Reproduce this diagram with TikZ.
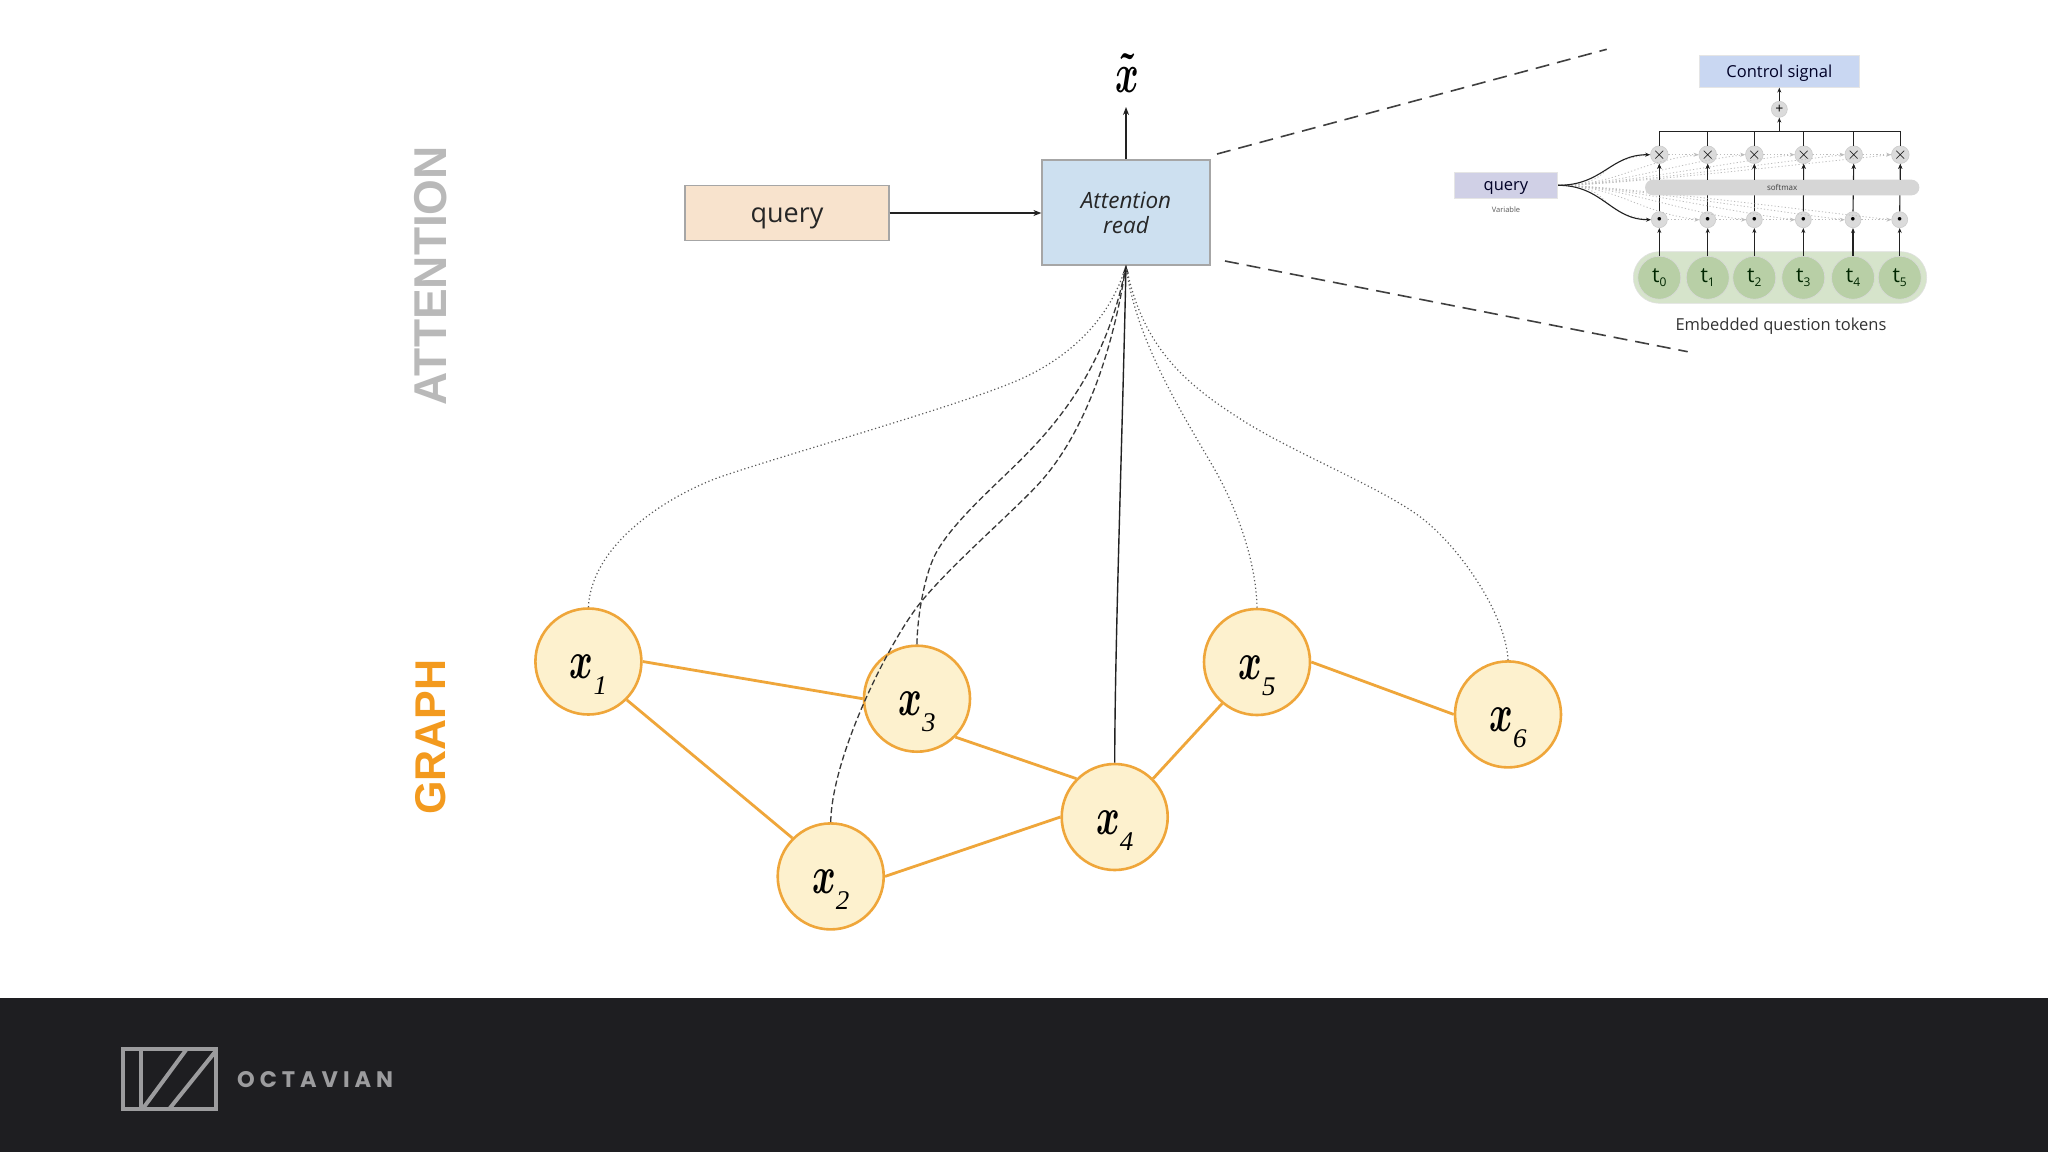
\documentclass[tikz,border=0pt]{standalone}
\usepackage{fontspec}
\setmainfont{Open Sans}
\newfontfamily\headfont{Liberation Sans}
\newfontfamily\logofont[LetterSpace=22]{Poppins}
\newfontfamily\subfont{Liberation Serif}
\usetikzlibrary{arrows.meta}
\definecolor{footer}{HTML}{1E1E21}
\definecolor{logogrey}{HTML}{9C9C9E}
\definecolor{nodeorange}{HTML}{EFA63A}
\definecolor{nodefill}{HTML}{FDF1CE}
\definecolor{inkline}{HTML}{222222}
\definecolor{ghost}{HTML}{BDBDBD}
\definecolor{querybox}{HTML}{F8E3CD}
\definecolor{attnbox}{HTML}{CDE0F0}
\definecolor{ctrlbox}{HTML}{C9D7F2}
\definecolor{qsmall}{HTML}{D0D0E6}
\definecolor{pillgreen}{HTML}{D6E4CB}
\definecolor{tgreen}{HTML}{B8CFA6}
\definecolor{headgrey}{HTML}{B9B9B9}
\definecolor{headorange}{HTML}{F39A1E}
\tikzset{
  gnode/.style={circle,draw=nodeorange,line width=2.6pt,fill=nodefill,minimum size=106pt,inner sep=0pt,text=black},
  gedge/.style={draw=nodeorange,line width=2.8pt},
  softdot/.style={draw=black!65,line width=1.2pt,dash pattern=on 1.2pt off 2.6pt},
  softdash/.style={draw=black!78,line width=1.3pt,dash pattern=on 6pt off 3pt},
  zoomline/.style={draw=black!75,line width=1.6pt,dash pattern=on 14pt off 8pt},
  mainarrow/.style={draw=inkline,line width=1.4pt,-{Stealth[length=8pt,width=6pt]}},
  insetarrow/.style={draw=inkline,line width=1.1pt,-{Stealth[length=5pt,width=4pt]}},
  insetline/.style={draw=inkline,line width=1.1pt},
  opnode/.style={circle,fill=black!14,draw=black!20,line width=.6pt,minimum size=16pt,inner sep=0pt,text=black},
  ghostline/.style={draw=ghost,line width=.8pt,dash pattern=on 1.2pt off 2.2pt},
  ghostarrow/.style={ghostline,-{Stealth[length=5pt,width=4pt]}},
  logoline/.style={draw=logogrey,line width=4pt},
}
\newcommand{\gx}[1]{\raisebox{-17pt}[0pt][0pt]{\scalebox{3.6}[5.3]{\boldmath$x$}}\raisebox{-33pt}[0pt][0pt]{\fontsize{27}{27}\subfont\itshape #1}}
\newcommand{\tk}[1]{\fontsize{21}{21}\selectfont t\raisebox{-4pt}{\fontsize{12}{12}\selectfont #1}}
\begin{document}
\begin{tikzpicture}[x=1pt,y=-1pt]
\useasboundingbox (0,0) rectangle (2048,1152);
\fill[white] (0,0) rectangle (2048,1152);
\fill[footer] (0,998) rectangle (2048,1152);

% side labels
\node[rotate=90,text=headgrey,font=\headfont\bfseries\fontsize{46}{46}\selectfont] (attlabel) at (431,276) {ATTENTION};
\node[rotate=90,text=headorange,font=\headfont\bfseries\fontsize{43}{43}\selectfont] (graphlabel) at (431,737) {GRAPH};

% main boxes
\node[draw=black!35,line width=1.2pt,fill=querybox,minimum width=204pt,minimum height=55pt,inner sep=0pt,text=black!85,font=\fontsize{27}{27}\selectfont] (query) at (787,213) {\raisebox{-9pt}[0pt][0pt]{query}};
\node[draw=black!35,line width=1.2pt,fill=attnbox,minimum width=168pt,minimum height=105pt,inner sep=0pt,align=center,text=black!85,font=\itshape\fontsize{22.5}{25}\selectfont] (attn) at (1126,212.5) {Attention\\read};
\node[inner sep=0pt] (xtilde) at (1127,73) {\scalebox{3.6}[5.6]{\boldmath$\tilde{x}$}};
\coordinate (xout) at (1126,107);
\draw[mainarrow] (query.east |- 0,213) -- (attn.west |- 0,213);
\draw[mainarrow] (attn.north) -- (xout);

% graph nodes
\node[gnode] (x1) at (588.4,661.5) {\gx{1}};
\node[gnode] (x2) at (830.7,876.4) {\gx{2}};
\node[gnode] (x3) at (917,698.7) {\gx{3}};
\node[gnode] (x4) at (1114.7,817) {\gx{4}};
\node[gnode] (x5) at (1257,662) {\gx{5}};
\node[gnode] (x6) at (1508,714.4) {\gx{6}};
\draw[gedge] (x1.east) -- (x3.west);
\draw[gedge] (x1.-45) -- (x2.135);
\draw[gedge] (x2.east) -- (x4.west);
\draw[gedge] (x3.-45) -- (x4.135);
\draw[gedge] (x4.45) -- (x5.230);
\draw[gedge] (x5.east) -- (x6.west);

% attention read edges
\draw[softdot] (x1.north) .. controls (592,540) and (675,493) .. (720,477) .. controls (790,453) and (958.6,406) .. (1018.6,380) .. controls (1068.6,358) and (1110,320) .. (attn.south);
\draw[softdash] (x2.north) .. controls (832,755) and (890.6,638) .. (922.6,600) .. controls (952.6,564) and (1006,518) .. (1036,486.7) .. controls (1076,445) and (1110,370) .. (attn.south);
\draw[softdash] (x3.north) .. controls (917,620) and (924,575) .. (936,553) .. controls (954,520) and (999.5,482) .. (1027.5,453) .. controls (1072.5,407) and (1110,350) .. (attn.south);
\draw[mainarrow] (x4.north) .. controls (1115,640) and (1122,450) .. (attn.south);
\draw[softdot] (x5.north) .. controls (1256,555) and (1232,500) .. (1215,470) .. controls (1185,418) and (1135,340) .. (attn.south);
\draw[softdot] (x6.north) .. controls (1506,615) and (1460,546.7) .. (1420,516.7) .. controls (1380,487) and (1292,452) .. (1242,420) .. controls (1182,382) and (1142,345) .. (attn.south);

% zoom guides
\coordinate (zta) at (1217,154);
\coordinate (ztb) at (1606.7,49.3);
\coordinate (zba) at (1225,261);
\coordinate (zbb) at (1687.7,351.7);
\draw[zoomline] (zta) -- (ztb);
\draw[zoomline] (zba) -- (zbb);

% inset
\node[fill=ctrlbox,draw=black!10,line width=.6pt,minimum width=160.6pt,minimum height=32pt,inner sep=0pt,font=\fontsize{16.5}{16.5}\selectfont,text=black!85!blue] (ctrl) at (1779.3,71.3) {\raisebox{-6pt}[0pt][0pt]{Control signal}};
\node[fill=qsmall,draw=black!10,line width=.6pt,minimum width=103.4pt,minimum height=26pt,inner sep=0pt,font=\fontsize{16.5}{16.5}\selectfont,text=black!85!blue] (q2) at (1506,185.3) {\raisebox{-5.4pt}[0pt][0pt]{query}};
\node[inner sep=0pt,font=\fontsize{7.5}{7.5}\selectfont,text=black!65] (varlabel) at (1506,210) {Variable};
\node[opnode,font=\fontsize{14}{14}\selectfont] (plus) at (1779.3,109.3) {+};
\fill[pillgreen,draw=black!12,line width=.6pt,rounded corners=25.8pt] (1633.3,251.7) rectangle (1926.7,303.3);
\coordinate (bus) at (1779.3,131.3);

\foreach \i/\mpos/\bpos in {0/1659.3/1659.3,1/1707.7/1707.7,2/1754.3/1754.3,3/1803.7/1803.3,4/1853.7/1853,5/1900.3/1899.7}{
  \node[opnode,font=\fontsize{17}{17}\selectfont] (m\i) at (\mpos,154.7) {$\times$};
  \node[opnode,font=\fontsize{9}{9}\selectfont] (d\i) at (\bpos,219.7) {$\bullet$};
  \node[circle,fill=tgreen,draw=black!15,line width=.6pt,minimum size=43pt,inner sep=0pt,text=black!85!green] (t\i) at (\bpos,277.7) {\tk{\i}};
  \draw[ghostline] (q2.east) .. controls +(60,0) and +(-60,6) .. (m\i.west);
  \draw[ghostline] (q2.east) .. controls +(60,0) and +(-60,-6) .. (d\i.west);
  \draw[insetarrow] (t\i.north) -- (d\i.south);
  \draw[insetarrow] (d\i.north) -- (m\i.south);
  \draw[insetline] (m\i.north) -- (m\i.north |- bus);
}
\foreach \a/\b in {0/1,1/2,2/3,3/4,4/5}{
  \draw[ghostarrow] (m\a.east) -- (m\b.west);
  \draw[ghostarrow] (d\a.east) -- (d\b.west);
}
\node[fill=black!16,rounded corners=7.8pt,minimum width=274.3pt,minimum height=15.6pt,inner sep=0pt,font=\fontsize{8}{8}\selectfont,text=black!75] (softmax) at (1782.2,187.5) {softmax};
\foreach \i in {0,...,5}{
  \draw[insetarrow] (softmax.north -| m\i) -- (m\i.south);
}
\draw[insetline] (m0.north |- bus) -- (m5.north |- bus);
\draw[insetarrow] (bus) -- (plus.south);
\draw[insetarrow] (plus.north) -- (ctrl.south);
\draw[insetarrow] (q2.east) .. controls +(45,0) and +(-40,0) .. (m0.west);
\draw[insetarrow] (q2.east) .. controls +(45,0) and +(-40,0) .. (d0.west);
\node[inner sep=0pt,font=\fontsize{16.5}{16.5}\selectfont,text=black!80] (embed) at (1781,326) {Embedded question tokens};

% logo
\draw[logoline] (123,1049) rectangle (216,1109);
\draw[logoline] (141,1049) -- (141,1109);
\draw[logoline] (143.3,1108) -- (186,1050);
\draw[logoline] (170,1108) -- (215,1052);
\node[inner sep=0pt,text=logogrey,font=\logofont\bfseries\fontsize{22.5}{22.5}\selectfont,anchor=west] (logotext) at (237,1079.3) {OCTAVIAN};
\end{tikzpicture}
\end{document}
